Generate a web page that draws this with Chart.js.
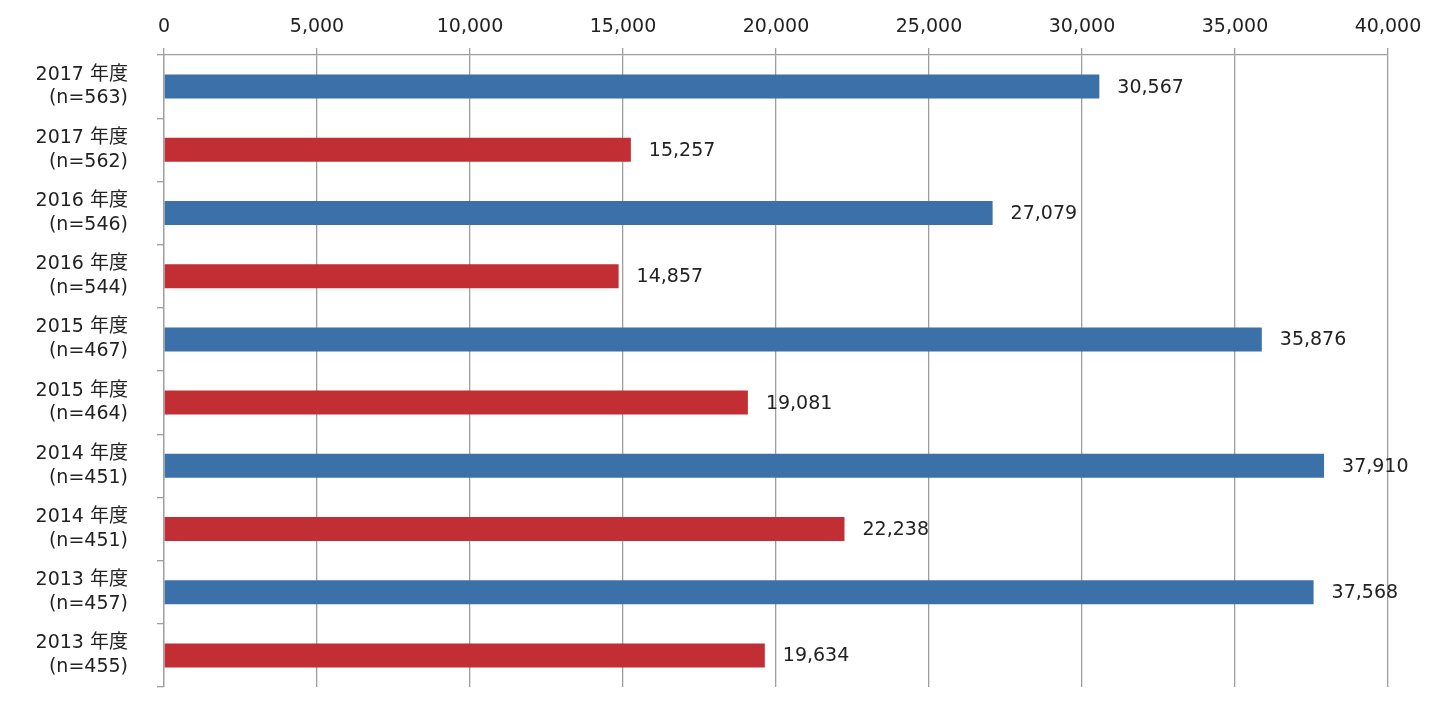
<!DOCTYPE html>
<html>
<head>
<meta charset="utf-8">
<script src="https://cdn.jsdelivr.net/npm/chart.js@4.4.1/dist/chart.umd.min.js"></script>
<style>
html,body{margin:0;padding:0;background:#fff;}
#wrap{position:relative;width:1440px;height:725px;}
</style>
</head>
<body>
<div id="wrap"><canvas id="c" width="1440" height="725"></canvas></div>
<script>
const years = ['2017','2017','2016','2016','2015','2015','2014','2014','2013','2013'];
const sampleSizes = [563,562,546,544,467,464,451,451,457,455];
const values = [30567,15257,27079,14857,35876,19081,37910,22238,37568,19634];
const barColors = ['#3C70A8','#C12E33','#3C70A8','#C12E33','#3C70A8','#C12E33','#3C70A8','#C12E33','#3C70A8','#C12E33'];
const xTicks = [0,5000,10000,15000,20000,25000,30000,35000,40000];

const categories = years.map((y,i)=>[y+' 年度','(n='+sampleSizes[i]+')']);
const FONT = '"DejaVu Sans", "Noto Sans CJK JP", sans-serif';
const fmt = v => v.toLocaleString('en-US');

const valueLabels = {
  id:'valueLabels',
  afterDatasetsDraw(chart){
    const ctx = chart.ctx;
    const meta = chart.getDatasetMeta(0);
    ctx.save();
    ctx.font = '19px ' + FONT;
    ctx.fillStyle = '#222';
    ctx.textAlign = 'left';
    ctx.textBaseline = 'middle';
    meta.data.forEach((bar,i)=>{
      ctx.fillText(fmt(values[i]), bar.x + 18, bar.y + 1);
    });
    ctx.restore();
  }
};

new Chart(document.getElementById('c'), {
  type:'bar',
  data:{
    labels: categories,
    datasets:[{
      data: values,
      backgroundColor: barColors,
      borderWidth: 0,
      barPercentage: 0.38,
      categoryPercentage: 1.0
    }]
  },
  options:{
    indexAxis:'y',
    responsive:false,
    animation:false,
    layout:{padding:{left:0,right:52,top:0,bottom:38}},
    plugins:{legend:{display:false},tooltip:{enabled:false}},
    scales:{
      x:{
        position:'top',
        min:0,max:40000,
        afterBuildTicks(scale){ scale.ticks = xTicks.map(v=>({value:v})); },
        afterFit(scale){ scale.height = 55; },
        ticks:{
          font:{family:FONT,size:19},
          color:'#222',
          padding:10,
          callback:v=>fmt(v)
        },
        grid:{color:'#9E9E9E',lineWidth:1.3,tickLength:7,drawOnChartArea:true},
        border:{color:'#9E9E9E',width:1.3}
      },
      y:{
        afterFit(scale){ scale.width = 164; scale.paddingTop = 0; scale.paddingBottom = 0; },
        ticks:{
          font:{family:FONT,size:19,lineHeight:1.25},
          color:'#222',
          padding:29
        },
        grid:{offset:true,drawOnChartArea:false,color:'#9E9E9E',lineWidth:1.3,tickLength:7},
        border:{color:'#9E9E9E',width:1.3}
      }
    }
  },
  plugins:[valueLabels]
});
</script>
</body>
</html>
